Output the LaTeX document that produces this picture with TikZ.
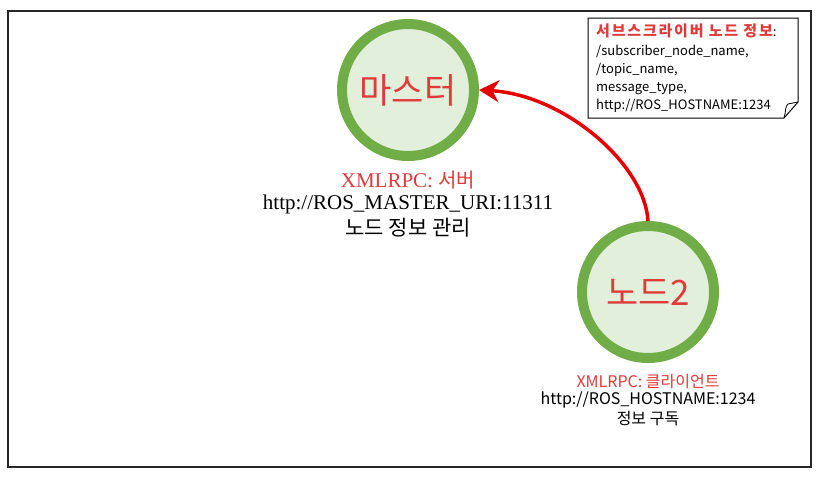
\documentclass[tikz,border=0pt]{standalone}
\usepackage{fontspec}
\setmainfont{Liberation Serif}
\newfontfamily\kr{Noto Sans CJK KR}
\usetikzlibrary{arrows.meta}
\definecolor{ngreen}{HTML}{70AD47}
\definecolor{nfill}{HTML}{E2EFDA}
\definecolor{tred}{HTML}{E03A3A}
\definecolor{ared}{HTML}{E60000}
\tikzset{
  rosnode/.style={circle, draw=ngreen, fill=nfill, line width=10pt, minimum size=132pt, inner sep=0pt,
    font=\kr\fontsize{35}{40}\selectfont, text=tred},
  lbl/.style={align=center, inner sep=0pt},
  arr/.style={draw=ared, line width=3.5pt, -{Stealth[length=20pt,width=22pt]}},
  notebox/.style={draw=black, line width=1pt, fill=white}
}
\begin{document}
\begin{tikzpicture}[x=1pt,y=-1pt]
\useasboundingbox (0,0) rectangle (824,479);
\draw[line width=1.2pt, draw=black!85] (8,11) rectangle (811,467);

\node[rosnode] (m) at (408,90) {마스터};
\node[rosnode] (n2) at (648,292) {노드2};

\node[lbl, text=tred, font=\fontsize{21}{24}\selectfont] (ml1) at (408,180) {XMLRPC: {\kr\fontsize{20}{24}\selectfont 서버}};
\node[lbl, font=\fontsize{21}{24}\selectfont] (ml2) at (408,204) {http://ROS\_MASTER\_URI:11311};
\node[lbl, font=\kr\fontsize{21}{24}\selectfont] (ml3) at (408,228) {노드 정보 관리};

\node[lbl, text=tred, font=\kr\fontsize{16}{19}\selectfont] (nl1) at (648,382) {XMLRPC: 클라이언트};
\node[lbl, font=\kr\fontsize{16}{19}\selectfont] (nl2) at (648,400) {http://ROS\_HOSTNAME:1234};
\node[lbl, font=\kr\fontsize{16}{19}\selectfont] (nl3) at (648,419) {정보 구독};

\draw[arr] (n2.north) .. controls (645,165) and (565,95) .. (m.east);

% note
\draw[notebox] (588,18) -- (798,18) -- (798,102) -- (784,118) -- (588,118) -- cycle;
\draw[line width=0.8pt] (784,118) .. controls (786,112) and (785,106) .. (788,104) -- (798,102);
\node[anchor=north west, align=left, inner sep=0pt, font=\kr\fontsize{13}{18}\selectfont] (note) at (596,24)
  {{\color{tred}\bfseries\fontsize{15}{18}\selectfont\addfontfeature{LetterSpace=12}서브스크라이버 노드 정보}:\\[1pt]
   /subscriber\_node\_name,\\
   /topic\_name,\\
   message\_type,\\
   http://ROS\_HOSTNAME:1234};
\end{tikzpicture}
\end{document}
